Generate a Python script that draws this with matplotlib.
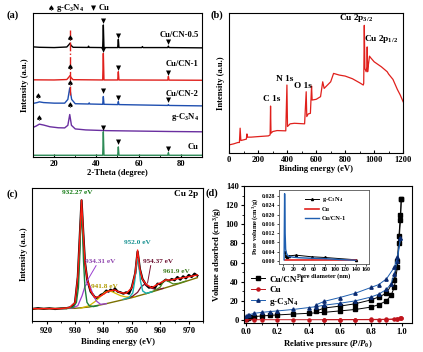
import matplotlib
matplotlib.use("Agg")
import matplotlib.pyplot as plt
from matplotlib.ticker import MultipleLocator

plt.rcParams['font.family'] = ['Liberation Serif', 'DejaVu Serif']
plt.rcParams['font.weight'] = 'bold'
plt.rcParams['axes.labelweight'] = 'bold'
plt.rcParams['axes.linewidth'] = 0.8
plt.rcParams['mathtext.fontset'] = 'custom'
plt.rcParams['mathtext.rm'] = 'Liberation Serif:bold'
plt.rcParams['mathtext.it'] = 'Liberation Serif:bold:italic'
plt.rcParams['mathtext.bf'] = 'Liberation Serif:bold'

# ---------------- (a) XRD ----------------
xrd_cn05_x = [10, 13, 20, 26, 27, 27.5, 28, 29, 36, 36.3, 36.6, 43, 43.3, 43.6, 50.1, 50.4, 50.7,
              61.5, 61.8, 62.1, 73.8, 74.1, 74.4, 90]
xrd_cn05_y = [76.5, 76.2, 76, 76.4, 78, 79, 77.5, 76.2, 76.1, 77, 76.1, 76, 91.7, 76, 76, 81.7, 76,
              76, 76.7, 76, 76, 77, 76, 75.8]
xrd_cn1_x = [10, 20, 26, 27, 27.5, 28, 29, 43, 43.3, 43.6, 50.1, 50.4, 50.7, 73.8, 74.1, 74.4, 90]
xrd_cn1_y = [53.6, 53.5, 53.8, 55.5, 56.5, 55.2, 53.7, 53.5, 72, 53.5, 53.5, 59.2, 53.5, 53.4, 56, 53.4, 53.3]
xrd_cn2_x = [10, 12, 13, 15, 20, 25, 26.5, 27.4, 28.3, 30, 36.3, 36.6, 36.9, 43, 43.3, 43.6,
             50.1, 50.4, 50.7, 73.8, 74.1, 74.4, 90]
xrd_cn2_y = [37.2, 37.8, 38.3, 37.8, 37.4, 37.4, 40, 48, 40, 37, 36.8, 37.6, 36.8, 36.6, 42, 36.6,
             36.4, 38.5, 36.4, 35.8, 36.4, 35.8, 35.5]
xrd_gcn_x = [10, 11.5, 13, 15, 18, 22, 25, 26.5, 27.4, 28.2, 30, 35, 45, 60, 75, 90]
xrd_gcn_y = [20.5, 21.5, 22.8, 22.2, 21, 20.3, 20.2, 22, 29.5, 22, 19.5, 18.8, 18.3, 18, 17.7, 17.5]
xrd_cu_x = [10, 43, 43.3, 43.6, 50.1, 50.4, 50.7, 73.8, 74.1, 74.4, 90]
xrd_cu_y = [1.2, 1.2, 17.5, 1.2, 1.2, 7, 1.2, 1.2, 3, 1.2, 1.2]

xrd_names = ['Cu/CN-0.5', 'Cu/CN-1', 'Cu/CN-2', 'g-C$_3$N$_4$', 'Cu']
xrd_label_y = [85, 64.5, 44, 27.5, 7.2]
xrd_spade_x = [27.5, 27.5, 27.5, 12.6, 27.5, 13]
xrd_spade_y = [82, 62, 51, 41.8, 35.5, 26.6]
xrd_cu_mark_x = [43.3, 50.4, 74.1, 43.3, 50.4, 74.1, 43.3, 50.4, 74.1, 43.3, 50.4, 74.1]
xrd_cu_mark_y = [94.5, 84, 80, 74.5, 62, 58, 46, 40.8, 39.5, 20.3, 10, 5.5]

# ---------------- (b) XPS survey ----------------
surv_x = [0, 30, 60, 70, 75, 80, 100, 118, 122, 126, 150, 200, 270, 282, 285, 288, 300, 330, 390, 398,
          402, 420, 450, 520, 531, 535, 545, 560, 568, 572, 600, 630, 645, 655, 700, 720, 760, 800,
          850, 900, 925, 928, 932, 936, 945, 950, 952, 955, 960, 968, 975, 1000, 1050, 1090, 1100,
          1130, 1160, 1180, 1200]
surv_y = [5.9, 6.6, 7.6, 7.6, 17.8, 9.0, 9.5, 10, 13.7, 11.4, 11.4, 11.8, 12.3, 13, 33.6, 14.2, 15.4,
          16.1, 15.9, 48.6, 19.0, 20.9, 21.3, 20.9, 43.8, 26.1, 28.0, 28.4, 47.9, 37.9, 38.4, 40.3,
          50.9, 46.2, 50.9, 56.9, 55.7, 55.0, 53.1, 50.2, 48.6, 49.8, 91.2, 60.4, 58.1, 61.6, 75.8,
          58.1, 62.8, 69.2, 68.2, 65.2, 61.6, 58.1, 56.4, 52.6, 45.5, 41.5, 36.7]
surv_labels = ['C 1s', 'N 1s', 'O 1s', 'Cu 2p$_{3/2}$', 'Cu 2p$_{1/2}$']
surv_label_x = [290, 382, 507, 876, 1045]
surv_label_y = [38.4, 52.8, 47.9, 96.7, 81.8]

# ---------------- (c) Cu 2p ----------------
cu2p_data_x = [915, 917, 919, 921, 923, 925, 927, 928.5, 930, 931, 931.7, 932.3, 932.9, 933.5, 934.3,
               935.5, 937, 938, 939, 940, 941, 941.8, 942.5, 943.5, 944, 945, 946, 947, 948, 949, 950,
               951.2, 952.0, 952.8, 953.7, 955, 956, 957, 958, 959, 960, 961, 961.9, 963, 964, 965,
               966, 967, 968, 969, 970, 971, 972, 973]
cu2p_data_y = [9.0, 9.6, 9.1, 9.5, 9.0, 9.4, 9.6, 10.3, 13.5, 33, 64, 90.5, 66, 44, 31, 22, 17.8, 17.2,
               19.5, 20.5, 22.8, 22, 23.5, 22.5, 24.5, 22, 21.5, 20.5, 21.5, 20.5, 25.5, 36, 52, 39,
               31.5, 27, 25, 25.5, 24.5, 28, 27.5, 29.5, 31, 30, 31.5, 30.5, 33, 31, 33.5, 32, 34.5,
               33, 35.5, 34]
cu2p_fit_x = [915, 925, 928, 930, 931, 931.7, 932.3, 932.9, 933.5, 934.3, 935.5, 937, 939, 941.8, 944,
              946, 948, 950, 951.2, 952.0, 952.8, 953.7, 955, 957, 959, 961.9, 964, 966, 970, 973]
cu2p_fit_y = [9.25, 9.25, 10, 13.75, 33.75, 63.75, 90.75, 66.25, 43.75, 31.25, 22.5, 17.5, 18.75, 22.5,
              23.25, 21.25, 20.75, 25, 36.25, 53.25, 38.75, 31.25, 27.5, 25, 27.5, 30.75, 30.75,
              31.75, 33.25, 34.5]
bg_x = [915, 930, 935, 940, 945, 950, 955, 960, 965, 973]
bg_y = [9.25, 9.5, 10.5, 12.5, 15, 17.5, 20.5, 23.75, 27, 32.5]
pk1_x = [927, 929.5, 930.5, 931.2, 931.7, 932.0, 932.27, 932.6, 933.0, 933.5, 934.2, 935, 936.5, 938]
pk1_y = [9.4, 10.5, 14, 25, 50, 72, 81, 70, 45, 25, 14, 11.5, 10.8, 11.5]
pk2_x = [928, 929.5, 931, 932.5, 933.5, 934.31, 935.2, 936.3, 937.5, 939, 941]
pk2_y = [9.5, 10, 11.5, 19, 26, 28.25, 26.5, 20, 15, 12.5, 13]
pk3_x = [932, 935, 937, 939, 940.5, 941.8, 943, 944.5, 946, 948, 951]
pk3_y = [9.6, 11.5, 14.5, 18.5, 21.5, 22.5, 22, 20.5, 19, 18, 18.3]
pk4_x = [947, 949, 950.3, 951.0, 951.5, 952.0, 952.5, 953.0, 953.8, 955, 957]
pk4_y = [16.3, 17.5, 21, 30, 41, 46.75, 41, 30, 22.5, 20.8, 21.8]
pk5_x = [948, 950, 952, 953.2, 954.37, 955.5, 957, 959, 961]
pk5_y = [16.8, 18.2, 21.5, 25.5, 27.5, 26.5, 24.5, 23.5, 24.5]
pk6_x = [955, 958, 960, 961, 961.9, 963, 964.5, 966.5, 969]
pk6_y = [20.5, 22.8, 25.5, 29.5, 30.75, 29.5, 27.8, 28.3, 30]
cu2p_labels = ['932.27 eV', '934.31 eV', '941.8 eV', '952.0 eV', '954.37 eV', '961.9 eV']
cu2p_label_x = [930.9, 938.8, 940.3, 952.0, 959.3, 965.5]
cu2p_label_y = [96.5, 45, 25.5, 58.8, 45, 37.5]

# ---------------- (d) N2 isotherms ----------------
cn1_ads_p = [0.0, 0.01, 0.02, 0.05, 0.1, 0.15, 0.2, 0.3, 0.4, 0.5, 0.6, 0.7, 0.8, 0.85, 0.9, 0.93, 0.95,
             0.97, 0.98, 0.99, 0.995]
cn1_ads_v = [1.5, 2.5, 3.0, 3.6, 4.2, 4.8, 5.3, 6.2, 7.0, 8.0, 9.5, 11, 13.5, 16, 20, 26, 34, 55, 80,
             105, 126]
cn1_des_p = [0.995, 0.99, 0.98, 0.97, 0.95, 0.9, 0.85, 0.8, 0.7, 0.6, 0.5, 0.45]
cn1_des_v = [126, 110, 88, 62, 42, 28, 24, 21, 17, 14.5, 12.5, 9.5]
cu_ads_p = [0.0, 0.05, 0.1, 0.2, 0.3, 0.4, 0.5, 0.6, 0.7, 0.8, 0.85, 0.9, 0.95, 0.97, 0.99, 0.995]
cu_ads_v = [0.3, 0.3, 0.3, 0.3, 0.3, 0.3, 0.3, 0.3, 0.3, 0.3, 0.4, 0.5, 0.7, 1.0, 1.8, 2.5]
cu_des_p = [0.995, 0.97, 0.9, 0.8, 0.7, 0.6, 0.5]
cu_des_v = [2.5, 1.2, 0.8, 0.6, 0.5, 0.4, 0.4]
gcn_ads_p = [0.0, 0.01, 0.02, 0.05, 0.1, 0.15, 0.2, 0.3, 0.4, 0.45, 0.5, 0.6, 0.7, 0.8, 0.85, 0.9,
             0.93, 0.95, 0.97, 0.99]
gcn_ads_v = [4, 5, 5.5, 7, 8, 8.8, 9.5, 11, 13, 14, 15.5, 17.5, 20, 24, 27, 32, 38, 48, 62, 86]
gcn_des_p = [0.99, 0.97, 0.95, 0.9, 0.85, 0.8, 0.7, 0.6, 0.5, 0.45]
gcn_des_v = [86, 66, 55, 43, 37, 34, 28, 23.5, 19.5, 16]

pore_gcn_d = [3, 5, 8, 12, 25, 55, 80, 140]
pore_gcn_v = [0.004, 0.002, 0.0018, 0.0022, 0.0025, 0.0018, 0.0015, 0.0005]
pore_cu_d = [3, 10, 30, 60, 100, 140]
pore_cu_v = [0.0002, 0.0002, 0.0002, 0.0002, 0.0002, 0.0002]
pore_cn1_d = [2, 3, 4, 5, 7, 10, 15, 20, 30, 50, 80, 110, 140]
pore_cn1_v = [0.0005, 0.029, 0.012, 0.005, 0.003, 0.002, 0.0018, 0.0016, 0.0014, 0.0012, 0.001,
              0.0006, 0.0003]

FS = 6.2
fig = plt.figure(figsize=(4.23, 3.52), dpi=100)

# ---- panel a ----
axa = fig.add_axes([0.078, 0.554, 0.3995, 0.409])
cols_a = ['black', '#e0201c', '#1f4fb0', '#6a2fa0', '#2e8b57']
for xs, ys, c in zip([xrd_cn05_x, xrd_cn1_x, xrd_cn2_x, xrd_gcn_x, xrd_cu_x],
                     [xrd_cn05_y, xrd_cn1_y, xrd_cn2_y, xrd_gcn_y, xrd_cu_y], cols_a):
    axa.plot(xs, ys, color=c, lw=1.0)
axa.plot([27.4, 27.4], [43, 88], color='#e0201c', lw=1.0, ls='-.')
for name, yy in zip(xrd_names, xrd_label_y):
    axa.text(88.5, yy, name, ha='right', va='center', fontsize=FS)
for x, y in zip(xrd_spade_x, xrd_spade_y):
    axa.text(x, y, '\u2660', ha='center', va='center', fontsize=5.5, family='DejaVu Sans')
for x, y in zip(xrd_cu_mark_x, xrd_cu_mark_y):
    axa.text(x, y, '\u25bc', ha='center', va='center', fontsize=4.8, family='DejaVu Sans')
axa.set_xlim(10, 90)
axa.set_ylim(0, 100)
axa.set_yticks([])
axa.xaxis.set_major_locator(MultipleLocator(20))
axa.xaxis.set_minor_locator(MultipleLocator(10))
axa.tick_params(axis='x', which='both', direction='in', labelsize=FS, pad=2, length=2.5)
axa.tick_params(axis='x', which='minor', length=1.5)
axa.set_xlabel('2-Theta (degree)', fontsize=FS, labelpad=1)
axa.set_ylabel('Intensity (a.u.)', fontsize=FS, labelpad=3)
fig.text(0.015, 0.95, '(a)', fontsize=7.5, fontweight='bold')
fig.text(0.112, 0.976, '\u2660', fontsize=5.5, family='DejaVu Sans', va='center')
fig.text(0.133, 0.976, 'g-C$_3$N$_4$', fontsize=FS, va='center')
fig.text(0.215, 0.976, '\u25bc', fontsize=4.8, family='DejaVu Sans', va='center')
fig.text(0.232, 0.976, 'Cu', fontsize=FS, va='center')

# ---- panel b ----
axb = fig.add_axes([0.542, 0.565, 0.411, 0.398])
axb.plot(surv_x, surv_y, color='#e0201c', lw=0.9)
for t, x, y in zip(surv_labels, surv_label_x, surv_label_y):
    axb.text(x, y, t, ha='center', va='center', fontsize=FS + 0.5)
axb.set_xlim(0, 1200)
axb.set_ylim(0, 100)
axb.set_yticks([])
axb.xaxis.set_major_locator(MultipleLocator(200))
axb.xaxis.set_minor_locator(MultipleLocator(100))
axb.tick_params(axis='x', which='both', direction='in', labelsize=FS, pad=2, length=2.5)
axb.tick_params(axis='x', which='minor', length=1.5)
axb.set_xlabel('Binding energy (eV)', fontsize=FS, labelpad=1)
axb.set_ylabel('Intensity (a.u.)', fontsize=FS, labelpad=3)
fig.text(0.498, 0.95, '(b)', fontsize=7.5, fontweight='bold')

# ---- panel c ----
axc = fig.add_axes([0.0764, 0.0881, 0.4036, 0.3787])
axc.plot(cu2p_data_x, cu2p_data_y, color='black', lw=1.6)
axc.plot(bg_x, bg_y, color='#7a7000', lw=1.0)
axc.plot(pk3_x, pk3_y, color='#d4b800', lw=0.9)
axc.plot(pk2_x, pk2_y, color='#9b3fd0', lw=0.9)
axc.plot(pk5_x, pk5_y, color='#7a1030', lw=0.9)
axc.plot(pk6_x, pk6_y, color='#4f8a1e', lw=0.9)
axc.plot(pk4_x, pk4_y, color='#18b0b0', lw=1.0)
axc.plot(pk1_x, pk1_y, color='#1b7f3b', lw=1.0)
axc.plot(cu2p_fit_x, cu2p_fit_y, color='#ff1a10', lw=1.0)
cols_c = ['#127a12', '#8e44ad', '#b09a00', '#138f8f', '#6b1030', '#3c7a1a']
for t, x, y, c in zip(cu2p_labels, cu2p_label_x, cu2p_label_y, cols_c):
    axc.text(x, y, t, ha='center', va='center', fontsize=5.2, color=c)
axc.plot([937.4, 933.9], [41.5, 28.8], color='#9b3fd0', lw=0.7)
axc.plot([956.6, 955.5], [41.5, 28.5], color='#7a1030', lw=0.7)
axc.text(969, 95, 'Cu 2p', ha='center', va='center', fontsize=FS + 0.5)
axc.set_xlim(915, 975)
axc.set_ylim(0, 100)
axc.set_yticks([])
axc.xaxis.set_major_locator(MultipleLocator(10))
axc.xaxis.set_minor_locator(MultipleLocator(5))
axc.tick_params(axis='x', which='both', direction='out', labelsize=FS, pad=2, length=2.5)
axc.tick_params(axis='x', which='minor', length=1.5)
axc.set_xlabel('Binding energy (eV)', fontsize=FS, labelpad=2)
axc.set_ylabel('Intensity (a.u.)', fontsize=FS, labelpad=3)
fig.text(0.015, 0.44, '(c)', fontsize=7.5, fontweight='bold')

# ---- panel d ----
axd = fig.add_axes([0.5776, 0.0833, 0.3964, 0.388])
l1, = axd.plot(cn1_ads_p, cn1_ads_v, color='black', lw=0.7, marker='s', ms=2.2)
axd.plot(cn1_des_p, cn1_des_v, color='black', lw=0.7, marker='s', ms=2.2)
l2, = axd.plot(cu_ads_p, cu_ads_v, color='#c0141c', lw=0.7, marker='o', ms=2.2)
axd.plot(cu_des_p, cu_des_v, color='#c0141c', lw=0.7, marker='o', ms=2.2)
l3, = axd.plot(gcn_ads_p, gcn_ads_v, color='#1f5fb0', lw=0.7, marker='^', ms=2.4,
               mfc='#0a2a70', mec='#0a2a70')
axd.plot(gcn_des_p, gcn_des_v, color='#1f5fb0', lw=0.7, marker='^', ms=2.4, mfc='#0a2a70', mec='#0a2a70')
axd.legend([l1, l2, l3], ['Cu/CN-1', 'Cu', 'g-C$_3$N$_4$'], loc='upper left',
           bbox_to_anchor=(0.0, 0.395), frameon=False, fontsize=6.6, handlelength=1.6,
           handletextpad=0.4, labelspacing=0.2, borderpad=0.2)
axd.set_xlim(-0.013, 1.064)
axd.set_ylim(-2.8, 140)
axd.xaxis.set_minor_locator(MultipleLocator(0.1))
axd.yaxis.set_major_locator(MultipleLocator(20))
axd.yaxis.set_minor_locator(MultipleLocator(10))
axd.set_xticks([0.0, 0.2, 0.4, 0.6, 0.8, 1.0])
axd.set_xticklabels(['0.0', '0.2', '0.4', '0.6', '0.8', '1.0'])
axd.tick_params(axis='both', which='both', direction='out', labelsize=FS, pad=1.5, length=2.5)
axd.tick_params(axis='both', which='minor', length=1.5)
axd.set_xlabel('Relative pressure ($P$/$P_0$)', fontsize=FS, labelpad=1)
axd.set_ylabel('Volume adsorbed (cm$^3$/g)', fontsize=FS, labelpad=1)
fig.text(0.485, 0.445, '(d)', fontsize=7.5, fontweight='bold')

axi = fig.add_axes([0.659, 0.2514, 0.2135, 0.2088])
i1, = axi.plot(pore_gcn_d, pore_gcn_v, color='black', lw=0.7, marker='^', ms=1.5)
i2, = axi.plot(pore_cu_d, pore_cu_v, color='#e0201c', lw=1.2)
i3, = axi.plot(pore_cn1_d, pore_cn1_v, color='#1f5fb0', lw=1.0)
axi.legend([i1, i2, i3], ['g-C$_3$N$_4$', 'Cu', 'Cu/CN-1'], loc='upper right',
           bbox_to_anchor=(0.8, 1.0), frameon=False, fontsize=4.6, handlelength=2.2,
           handletextpad=0.4, labelspacing=0.45, borderpad=0.3)
axi.set_xlim(-8.3, 165.8)
axi.set_ylim(-0.0011, 0.0306)
axi.set_xticks([0, 20, 40, 60, 80, 100, 120, 140, 160])
axi.set_yticks([0.0, 0.004, 0.008, 0.012, 0.016, 0.020, 0.024, 0.028])
axi.yaxis.set_major_formatter(matplotlib.ticker.FormatStrFormatter('%.3f'))
axi.tick_params(axis='both', direction='out', labelsize=4.2, pad=1, length=1.5, width=0.5)
for s in axi.spines.values():
    s.set_linewidth(0.6)
    s.set_color('#555555')
axi.set_xlabel('Pore diameter (nm)', fontsize=4.6, labelpad=1)
axi.set_ylabel('Pore volume (cm$^3$/g)', fontsize=4.6, labelpad=1)

fig.savefig('out.png', dpi=100)
